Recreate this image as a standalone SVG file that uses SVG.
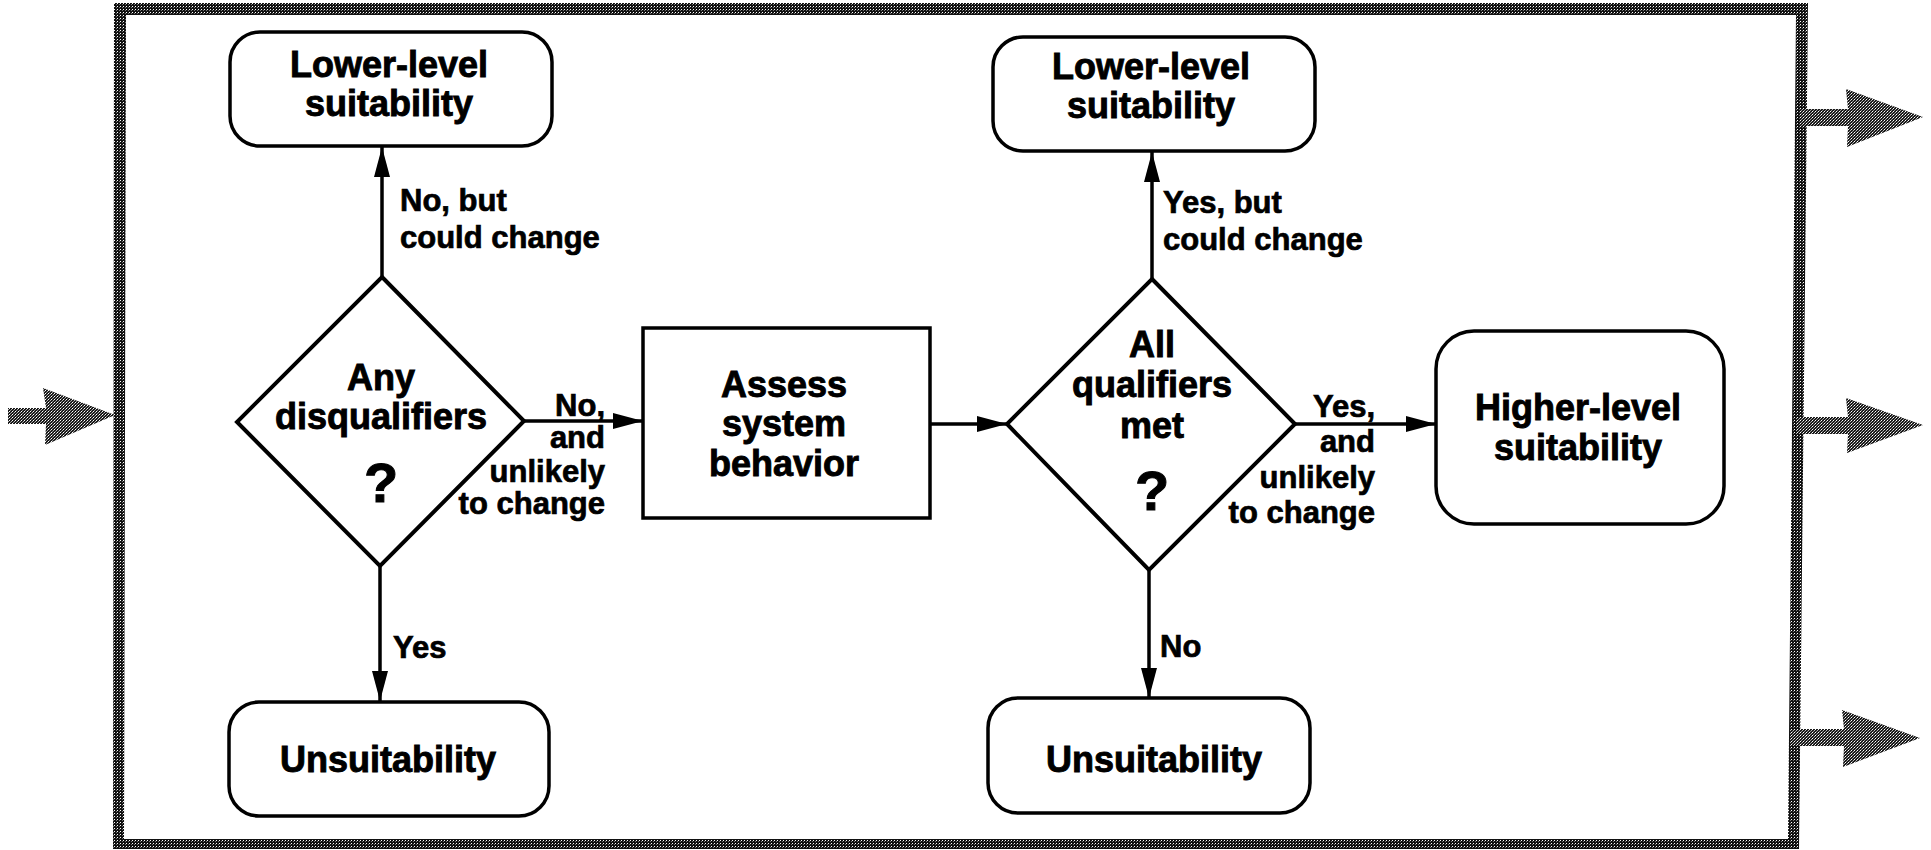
<svg xmlns="http://www.w3.org/2000/svg" width="1931" height="850" viewBox="0 0 1931 850">
  <defs>
    <!-- halftone screens: a dark one for the frame, a slightly lighter one for the flow arrows -->
    <pattern id="screen" width="3" height="3" patternUnits="userSpaceOnUse">
      <rect width="3" height="3" fill="#111111"/>
      <rect x="0" y="0" width="1" height="1" fill="#ffffff"/>
      <rect x="2" y="1" width="1" height="1" fill="#777777"/>
    </pattern>
    <pattern id="screen-light" width="3" height="3" patternUnits="userSpaceOnUse">
      <rect width="3" height="3" fill="#1a1a1a"/>
      <rect x="0" y="0" width="1" height="1" fill="#ffffff"/>
      <rect x="2" y="1" width="1" height="1" fill="#bbbbbb"/>
      <rect x="1" y="2" width="1" height="1" fill="#999999"/>
    </pattern>
    <marker id="head" viewBox="0 0 30 16" refX="30" refY="8" markerWidth="30" markerHeight="16" markerUnits="userSpaceOnUse" orient="auto">
      <path d="M0,0 L30,8 L0,16 Z" fill="#000"/>
    </marker>
    <style>
      .box { fill: #fff; stroke: #000; stroke-width: 3.5; }
      .dia { fill: #fff; stroke: #000; stroke-width: 4; stroke-linejoin: miter; }
      .edge { fill: none; stroke: #000; stroke-width: 3.5; marker-end: url(#head); }
      .node { font-family: "Liberation Sans", Arial, sans-serif; font-weight: bold; font-size: 36px; text-anchor: middle; fill: #000; stroke: #000; stroke-width: 0.9; }
      .q { font-family: "Liberation Sans", Arial, sans-serif; font-weight: bold; font-size: 56px; text-anchor: middle; fill: #000; stroke: #000; stroke-width: 1; }
      .lbl { font-family: "Liberation Sans", Arial, sans-serif; font-weight: bold; font-size: 31px; fill: #000; stroke: #000; stroke-width: 0.7; }
      .end { text-anchor: end; }
      .frame { fill: url(#screen); }
      .flow { fill: url(#screen-light); }
    </style>
  </defs>

  <rect width="1931" height="850" fill="#ffffff"/>

  <!-- outer frame (slightly skewed) -->
  <path class="frame" fill-rule="evenodd" d="M114,3 L1808,3 L1799,849 L113,849 Z M126,15 L1796,15 L1788,839 L124,839 Z"/>

  <!-- incoming and outgoing flow arrows -->
  <g id="flow-arrows">
    <path class="flow" d="M8,408 L46,408 L43,388 L115,415 L45,445 L46,424 L8,424 Z"/>
    <path class="flow" d="M1800,109 L1848,109 L1846,89 L1923,117 L1847,147 L1848,126 L1800,126 Z"/>
    <path class="flow" d="M1796,417 L1848,417 L1846,398 L1923,425 L1847,453 L1848,434 L1796,434 Z"/>
    <path class="flow" d="M1790,729 L1844,729 L1842,710 L1920,738 L1843,767 L1844,746 L1790,746 Z"/>
  </g>

  <!-- connectors -->
  <g id="connectors">
    <line class="edge" x1="382" y1="277" x2="382" y2="147"/>
    <line class="edge" x1="380" y1="566" x2="380" y2="701"/>
    <line class="edge" x1="524" y1="421" x2="643" y2="421"/>
    <line class="edge" x1="930" y1="424" x2="1007" y2="424"/>
    <line class="edge" x1="1152" y1="279" x2="1152" y2="152"/>
    <line class="edge" x1="1149" y1="570" x2="1149" y2="698"/>
    <line class="edge" x1="1295" y1="424" x2="1436" y2="424"/>
  </g>

  <!-- connector labels -->
  <g id="labels">
    <text class="lbl" x="400" y="211">No, but</text>
    <text class="lbl" x="400" y="248">could change</text>
    <text class="lbl" x="393" y="658">Yes</text>
    <text class="lbl end" x="605" y="416">No,</text>
    <text class="lbl end" x="605" y="448">and</text>
    <text class="lbl end" x="605" y="482">unlikely</text>
    <text class="lbl end" x="605" y="514">to change</text>
    <text class="lbl" x="1163" y="213">Yes, but</text>
    <text class="lbl" x="1163" y="250">could change</text>
    <text class="lbl" x="1160" y="657">No</text>
    <text class="lbl end" x="1375" y="417">Yes,</text>
    <text class="lbl end" x="1375" y="452">and</text>
    <text class="lbl end" x="1375" y="488">unlikely</text>
    <text class="lbl end" x="1375" y="523">to change</text>
  </g>

  <g id="lower-left">
    <rect class="box" x="230" y="32" width="322" height="114" rx="30"/>
    <text class="node" x="389" y="77">Lower-level</text>
    <text class="node" x="389" y="116">suitability</text>
  </g>

  <g id="disqualifiers">
    <polygon class="dia" points="382,277 524,421 380,566 237,422"/>
    <text class="node" x="381" y="390">Any</text>
    <text class="node" x="381" y="429">disqualifiers</text>
    <text class="q" x="381" y="502">?</text>
  </g>

  <g id="unsuitable-left">
    <rect class="box" x="229" y="702" width="320" height="114" rx="30"/>
    <text class="node" x="388" y="772">Unsuitability</text>
  </g>

  <g id="assess">
    <rect class="box" x="643" y="328" width="287" height="190"/>
    <text class="node" x="784" y="397">Assess</text>
    <text class="node" x="784" y="436">system</text>
    <text class="node" x="784" y="476">behavior</text>
  </g>

  <g id="lower-right">
    <rect class="box" x="993" y="37" width="322" height="114" rx="30"/>
    <text class="node" x="1151" y="79">Lower-level</text>
    <text class="node" x="1151" y="118">suitability</text>
  </g>

  <g id="qualifiers">
    <polygon class="dia" points="1152,279 1295,424 1149,570 1007,424"/>
    <text class="node" x="1152" y="357">All</text>
    <text class="node" x="1152" y="397">qualifiers</text>
    <text class="node" x="1152" y="438">met</text>
    <text class="q" x="1152" y="510">?</text>
  </g>

  <g id="unsuitable-right">
    <rect class="box" x="988" y="698" width="322" height="115" rx="30"/>
    <text class="node" x="1154" y="772">Unsuitability</text>
  </g>

  <g id="higher">
    <rect class="box" x="1436" y="331" width="288" height="193" rx="38"/>
    <text class="node" x="1578" y="420">Higher-level</text>
    <text class="node" x="1578" y="460">suitability</text>
  </g>
</svg>
